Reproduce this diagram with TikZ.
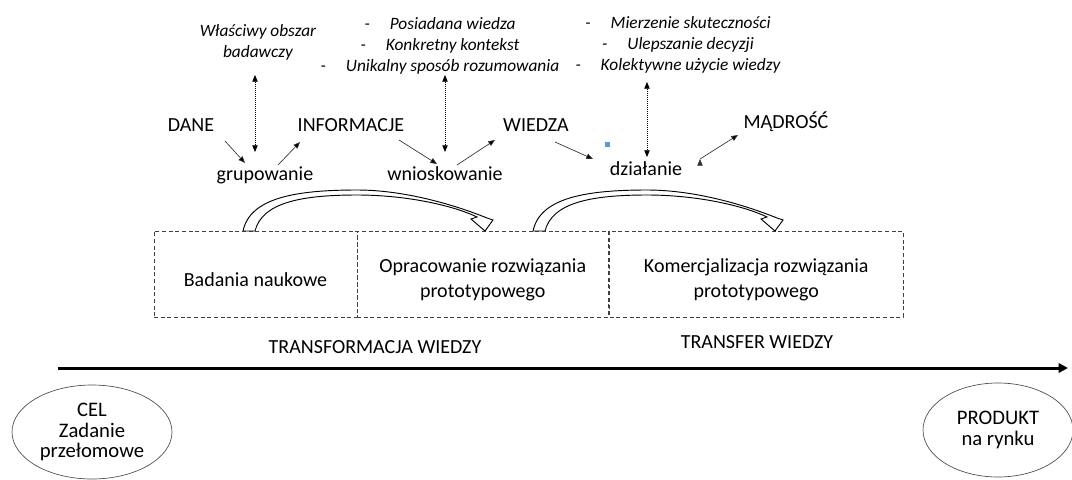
\documentclass[tikz,border=0pt]{standalone}
\usepackage{fontspec}
\setmainfont{Carlito}
\usepackage{tikz}
\usetikzlibrary{arrows.meta,calc,shapes.geometric}
\definecolor{znak}{HTML}{5B9BD5}
\newcommand{\odstep}{\rule{0pt}{19pt}}

\begin{document}
\begin{tikzpicture}[x=0.75pt,y=-0.75pt,>={Triangle[length=5pt,width=4pt]},
	krok/.style={inner sep=0pt,text height=11pt,text depth=4pt,font=\fontsize{15}{18}\selectfont},
	opis/.style={inner sep=0pt,align=center,font=\fontsize{13}{15.75}\selectfont\itshape},
	etap/.style={draw=black!75,densely dashed,line width=0.4pt,minimum height=64.5pt,align=center,font=\fontsize{15}{18.5}\selectfont},
	faza/.style={inner sep=0pt,font=\fontsize{15}{18}\selectfont},
	cel/.style={ellipse,draw=black!70,line width=0.5pt,align=center,inner sep=0pt,font=\fontsize{15.5}{15.5}\selectfont},
	strz/.style={->,draw=black!80,line width=0.5pt},
	kropki/.style={<->,densely dotted,line width=0.5pt},
	luk/.style={draw=black,fill=white,line width=0.7pt}]

	\useasboundingbox (0,0) rectangle (1072,479);

	% The chain
	\node [krok] at (191,127.3) (dane) {DANE};
	\node [krok] at (351,127.3) (info) {INFORMACJE};
	\node [krok] at (536,127.3) (wiedza) {WIEDZA};
	\node [krok] at (786,123.8) (madrosc) {MĄDROŚĆ};

	\node [krok] at (265,176.3) (grup) {grupowanie};
	\node [krok] at (445,176.3) (wniosk) {wnioskowanie};
	\node [krok] at (646,171.3) (dzial) {działanie};

	% Notes above
	\node [opis] at (258,42) (obszar) {Właściwy obszar\\badawczy};
	\node [opis] at (440,46) (lista1) {-\hspace{1.15em}Posiadana wiedza\\-\hspace{1.15em}Konkretny kontekst\\-\hspace{1.15em}Unikalny sposób rozumowania};
	\node [opis] at (678,45) (lista2) {-\hspace{1.15em}Mierzenie skuteczności\\-\hspace{1.15em}Ulepszanie decyzji\\-\hspace{1.15em}Kolektywne użycie wiedzy};

	\node [fill=znak,inner sep=0pt,minimum size=3.75pt] at (607,144) (znacznik) {};

	% Chain edges
	\path[strz]
	($(dane)+(34,13.7)$) edge ($(grup)+(-20,-13.3)$)
	($(grup)+(13,-11.3)$) edge ($(info)+(-51,14.7)$)
	($(info)+(48,12.7)$) edge ($(wniosk)+(-8,-12.3)$)
	($(wniosk)+(12,-11.3)$) edge ($(wiedza)+(-41,12.7)$)
	($(wiedza)+(19,14.7)$) edge ($(dzial)+(-53,-12.3)$)
	($(dzial)+(54,-12.3)$) edge ($(madrosc)+(-48,11.2)$);

	\path[kropki]
	($(obszar)+(-3,33)$) edge ($(grup)+(-10,-24.3)$)
	($(lista1)+(5,29)$) edge ($(wniosk)+(0,-24.3)$)
	($(lista2)+(-31,37)$) edge ($(dzial)+(1,-14.3)$);

	% Stages
	\node [etap,minimum width=152.25pt] at (255.5,274) (badania) {\odstep Badania naukowe};
	\node [etap,minimum width=188.6pt] at (482.75,274) (opracowanie) {\odstep Opracowanie rozwiązania\\prototypowego};
	\node [etap,minimum width=220.1pt] at (756.25,274) (komerc) {\odstep Komercjalizacja rozwiązania\\prototypowego};

	% Curved arrows between stages
	\foreach \dx in {0,290} {
	\draw [luk,shift={(\dx,0)}]
	(243,231) .. controls (250,198) and (295,190) .. (357,190)
	.. controls (405,190) and (455,205) .. (487,218)
	-- (493,220) -- (485,231) -- (471,219) -- (477,217)
	.. controls (452,205) and (405,195) .. (357,195)
	.. controls (300,195) and (262,203) .. (255,231) -- cycle;
	}

	\node [faza] at (375,347) (transformacja) {TRANSFORMACJA WIEDZY};
	\node [faza] at (757,342) (transfer) {TRANSFER WIEDZY};

	% Time axis
	\coordinate (start) at (58,368);
	\coordinate (meta) at (1068,368);
	\draw [-{Triangle[length=7pt,width=7pt]},line width=2.25pt] (start) -- (meta);

	\node [cel,minimum width=120pt,minimum height=70.5pt] at (92,432) (poczatek) {CEL\\Zadanie\\przełomowe};
	\node [cel,minimum width=112.5pt,minimum height=70.5pt] at (998,430) (produkt) {PRODUKT\\na rynku};

\end{tikzpicture}
\end{document}
